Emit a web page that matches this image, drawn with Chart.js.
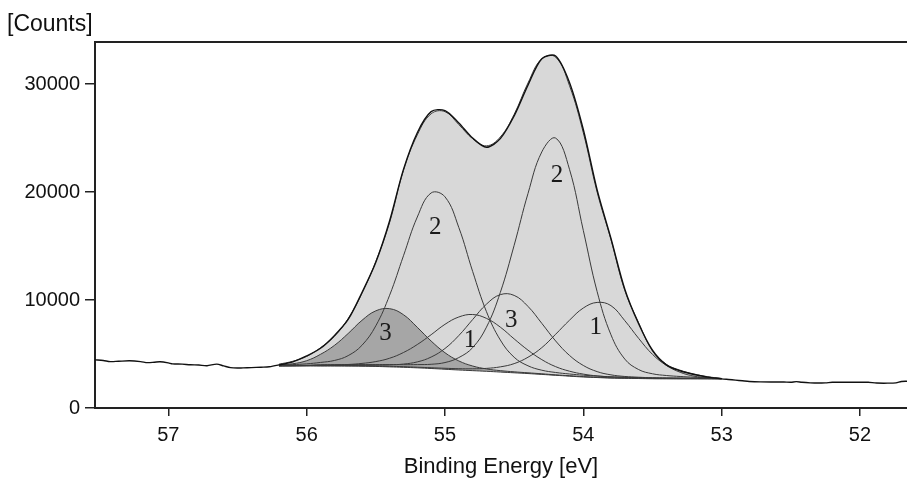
<!DOCTYPE html>
<html>
<head>
<meta charset="utf-8">
<script src="https://cdn.jsdelivr.net/npm/chart.js@4.4.1/dist/chart.umd.min.js"></script>
<style>
  body { margin: 0; background: #fff; }
  #wrap { width: 907px; height: 484px; }
</style>
</head>
<body>
<div id="wrap"><canvas id="myChart"></canvas></div>
<script>
// binding energy grid of the fitted region (eV)
const gridE = [56.2, 56.1, 56.0, 55.9, 55.8, 55.7, 55.6, 55.5, 55.4, 55.3, 55.2, 55.1, 55.0,
  54.9, 54.8, 54.7, 54.6, 54.5, 54.4, 54.3, 54.2, 54.1, 54.0, 53.9, 53.8, 53.7, 53.6,
  53.5, 53.4, 53.3, 53.2, 53.1, 53.0];

// fitted curves (counts) on gridE
const baseline = [3900, 3900, 3900, 3890, 3890, 3880, 3870, 3850, 3810, 3770, 3720, 3660, 3590,
  3520, 3460, 3400, 3330, 3260, 3190, 3110, 3030, 2950, 2870, 2820, 2770, 2750, 2730,
  2710, 2710, 2700, 2700, 2700, 2700];
const envelope = [4060, 4330, 4780, 5580, 6630, 8280, 10620, 13570, 17200, 22000, 25300, 27250, 27450,
  26250, 24950, 24280, 25100, 27200, 30100, 32350, 32500, 29860, 25500, 20000, 15600, 10900, 7900,
  5300, 4050, 3500, 3150, 2900, 2740];
const peak2a = [3980, 4020, 4090, 4220, 4400, 4850, 5810, 7610, 10450, 14100, 17690, 19920, 19560,
  16720, 12650, 8920, 6300, 4700, 3910, 3500, 3290, 3150, 3040, 2960, 2890, 2850, 2820,
  2790, 2770, 2760, 2740, 2730, 2720];
const peak2b = [3920, 3930, 3950, 4000, 4010, 4020, 4020, 4020, 4020, 4010, 4020, 4050, 4210,
  4670, 5590, 7490, 10700, 15070, 19860, 23720, 25000, 22110, 16450, 10780, 6780, 4530, 3560,
  3170, 3010, 2920, 2850, 2790, 2730];
const peak3a = [3990, 4100, 4380, 4970, 5790, 6900, 8120, 9000, 9200, 8640, 7470, 6200, 5120,
  4360, 3890, 3620, 3460, 3350, 3260, 3170, 3070, 2990, 2910, 2850, 2800, 2770, 2750,
  2730, 2720, 2720, 2720, 2710, 2710];
const peak3b = [3910, 3920, 3930, 3950, 3950, 3960, 3960, 3970, 3990, 4070, 4270, 4720, 5510,
  6710, 8190, 9620, 10500, 10430, 9410, 7840, 6210, 4870, 3940, 3370, 3070, 2920, 2850,
  2800, 2780, 2770, 2760, 2750, 2710];
const peak1a = [3910, 3920, 3930, 3970, 3990, 4030, 4130, 4300, 4610, 5140, 5880, 6790, 7750,
  8430, 8660, 8300, 7490, 6400, 5360, 4480, 3830, 3410, 3140, 2970, 2880, 2830, 2790,
  2760, 2750, 2740, 2740, 2730, 2710];
const peak1b = [3910, 3910, 3920, 3920, 3920, 3920, 3910, 3890, 3860, 3830, 3780, 3730, 3680,
  3640, 3630, 3670, 3810, 4110, 4700, 5590, 6830, 8130, 9260, 9780, 9480, 8090, 6450,
  4970, 3950, 3310, 2950, 2810, 2730];

// measured spectrum
const dataE = [57.53, 57.47, 57.42, 57.36, 57.28, 57.20, 57.15, 57.10, 57.06, 57.00, 56.97, 56.90,
  56.84, 56.78, 56.72, 56.65, 56.60, 56.55, 56.50, 56.46, 56.40, 56.33, 56.27,
  56.2, 56.1, 56.0, 55.9, 55.8, 55.7, 55.6, 55.5, 55.4, 55.3, 55.2, 55.1, 55.0,
  54.9, 54.8, 54.7, 54.6, 54.5, 54.4, 54.3, 54.2, 54.1, 54.0, 53.9, 53.8, 53.7, 53.6,
  53.5, 53.4, 53.3, 53.2, 53.1, 53.0,
  52.95, 52.90, 52.85, 52.80, 52.72, 52.63, 52.55, 52.50, 52.46, 52.42, 52.36, 52.30,
  52.25, 52.20, 52.12, 52.05, 52.00, 51.94, 51.88, 51.80, 51.74, 51.70, 51.66];
const dataCounts = [4460, 4400, 4300, 4330, 4370, 4300, 4200, 4240, 4280, 4180, 4090, 4060,
  4000, 3980, 3920, 4060, 3900, 3740, 3700, 3720, 3740, 3780, 3820,
  3990, 4280, 4820, 5530, 6700, 8200, 10700, 13500, 17350, 22100, 25500, 27450, 27550,
  26400, 25000, 24150, 24950, 27050, 29900, 32350, 32600, 30150, 25800, 20200, 15700, 11000, 7800,
  5350, 4000, 3450, 3100, 2860, 2700,
  2640, 2580, 2520, 2460, 2420, 2410, 2410, 2390, 2440, 2380, 2330, 2310,
  2330, 2380, 2380, 2380, 2390, 2380, 2310, 2300, 2330, 2460, 2480];

// peak numbers
const labelText = ['2', '2', '3', '1', '3', '1'];
const labelE = [55.07, 54.19, 55.43, 54.82, 54.52, 53.91];
const labelC = [16730, 21530, 6930, 6280, 8130, 7490];

const xTicks = [57, 56, 55, 54, 53, 52];
const yTicks = [0, 10000, 20000, 30000];

function pts(xs, ys) {
  return xs.map((e, i) => ({ x: e, y: ys[i] }));
}

const lineCol = '#3a3a3a';

function comp(vals, extra) {
  return Object.assign({
    data: pts(gridE, vals),
    showLine: true,
    borderColor: lineCol,
    borderWidth: 1,
    pointRadius: 0,
    tension: 0.4,
    fill: false
  }, extra || {});
}

const overlay = {
  id: 'overlay',
  afterDraw(chart) {
    const c = chart.ctx;
    const a = chart.chartArea;
    const xs = chart.scales.x, ys = chart.scales.y;
    c.save();
    // top frame line
    c.strokeStyle = '#222';
    c.lineWidth = 2;
    c.beginPath();
    c.moveTo(a.left - 1, a.top);
    c.lineTo(a.right, a.top);
    c.stroke();
    // axis unit
    c.fillStyle = '#111';
    c.font = '23px "Liberation Sans", Arial, sans-serif';
    c.textAlign = 'left';
    c.textBaseline = 'alphabetic';
    c.fillText('[Counts]', 7, 31);
    // peak numbers
    c.font = '25px "Liberation Serif", "Times New Roman", serif';
    c.textAlign = 'center';
    c.textBaseline = 'middle';
    c.fillStyle = '#1a1a1a';
    for (let i = 0; i < labelText.length; i++) {
      c.fillText(labelText[i], xs.getPixelForValue(labelE[i]), ys.getPixelForValue(labelC[i]));
    }
    c.restore();
  }
};

Chart.defaults.font.family = '"Liberation Sans", Arial, sans-serif';
Chart.defaults.color = '#111';

const ctx = document.getElementById('myChart');

new Chart(ctx, {
  type: 'scatter',
  data: {
    datasets: [
      {
        label: 'measured',
        data: pts(dataE, dataCounts),
        showLine: true,
        borderColor: '#111',
        borderWidth: 1.4,
        pointRadius: 0,
        tension: 0.3,
        fill: false,
        order: 0
      },
      comp(baseline, { label: 'background', order: 1 }),
      comp(envelope, { label: 'envelope', fill: 1, backgroundColor: '#d8d8d8', order: 10 }),
      comp(peak3a, { label: '3', fill: 1, backgroundColor: '#a6a6a6', order: 5 }),
      comp(peak2a, { label: '2', order: 2 }),
      comp(peak2b, { label: '2', order: 2 }),
      comp(peak3b, { label: '3', order: 2 }),
      comp(peak1a, { label: '1', order: 2 }),
      comp(peak1b, { label: '1', order: 2 })
    ]
  },
  options: {
    responsive: true,
    maintainAspectRatio: false,
    animation: false,
    layout: { padding: { top: 42, left: 0, right: 0, bottom: 0 } },
    plugins: {
      legend: { display: false },
      tooltip: { enabled: false }
    },
    scales: {
      x: {
        type: 'linear',
        reverse: true,
        min: 51.66,
        max: 57.53,
        afterFit: s => { s.height = 76; },
        afterBuildTicks: s => { s.ticks = xTicks.map(v => ({ value: v })); },
        ticks: {
          callback: v => String(v),
          font: { size: 20 },
          padding: 7,
          maxRotation: 0
        },
        grid: { drawOnChartArea: false, drawTicks: true, tickLength: 8, color: '#222', lineWidth: 1.5 },
        border: { display: true, color: '#222', width: 2 },
        title: {
          display: true,
          text: 'Binding Energy [eV]',
          font: { size: 22 },
          padding: { top: 0, bottom: 4 }
        }
      },
      y: {
        min: 0,
        max: 33900,
        afterFit: s => { s.width = 95; },
        afterBuildTicks: s => { s.ticks = yTicks.map(v => ({ value: v })); },
        ticks: {
          callback: v => String(v),
          font: { size: 20 },
          padding: 5
        },
        grid: { drawOnChartArea: false, drawTicks: true, tickLength: 10, color: '#222', lineWidth: 1.5 },
        border: { display: true, color: '#222', width: 2 }
      }
    }
  },
  plugins: [overlay]
});
</script>
</body>
</html>
